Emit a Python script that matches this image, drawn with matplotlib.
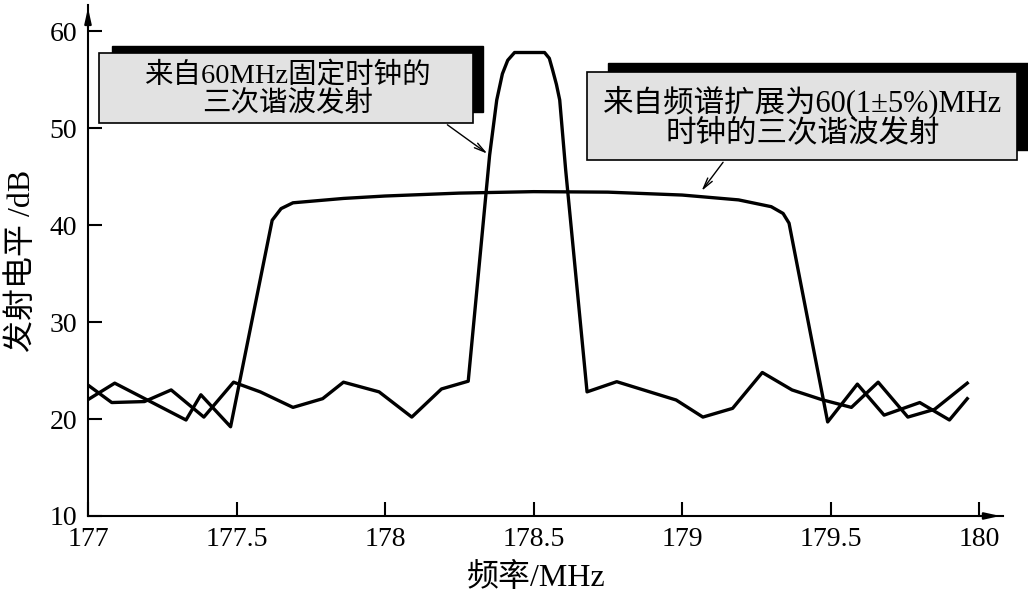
import matplotlib
matplotlib.use('Agg')
import matplotlib.pyplot as plt
from matplotlib.patches import Rectangle

plt.rcParams['font.family'] = ['Liberation Serif', 'Noto Sans CJK SC', 'DejaVu Sans']

# 60MHz 固定时钟的三次谐波
fixed_f = [177.00, 177.08, 177.19, 177.28, 177.39, 177.49, 177.58, 177.69, 177.79, 177.86,
           177.98, 178.09, 178.19, 178.28, 178.352, 178.376, 178.395, 178.413, 178.436, 178.537,
           178.553, 178.564, 178.577, 178.588, 178.608, 178.68, 178.78, 178.98, 179.07, 179.17,
           179.27, 179.37, 179.47, 179.57, 179.66, 179.76, 179.85, 179.96]
fixed_db = [23.5, 21.7, 21.8, 23.0, 20.2, 23.8, 22.8, 21.2, 22.1, 23.8,
            22.8, 20.2, 23.1, 23.9, 47.2, 52.9, 55.6, 57.0, 57.8, 57.8,
            57.2, 56.0, 54.5, 52.9, 45.7, 22.8, 23.85, 21.96, 20.2, 21.1,
            24.8, 23.0, 22.0, 21.2, 23.8, 20.2, 21.0, 23.7]

# 扩频 60(1±5%)MHz 时钟的三次谐波
spread_f = [177.00, 177.09, 177.33, 177.38, 177.48, 177.62, 177.65, 177.69, 177.86, 178.00,
            178.25, 178.50, 178.75, 179.00, 179.19, 179.30, 179.34, 179.36, 179.49, 179.59,
            179.68, 179.80, 179.90, 179.96]
spread_db = [22.0, 23.7, 19.9, 22.5, 19.2, 40.5, 41.7, 42.3, 42.75, 43.0,
             43.3, 43.45, 43.4, 43.1, 42.6, 41.9, 41.2, 40.2, 19.7, 23.6,
             20.4, 21.7, 19.9, 22.1]

xticks = [177, 177.5, 178, 178.5, 179, 179.5, 180]
xticklabels = ['177', '177.5', '178', '178.5', '179', '179.5', '180']
yticks = [10, 20, 30, 40, 50, 60]

fig = plt.figure(figsize=(10.28, 5.95), dpi=100)
ax = fig.add_axes([0.0856, 0.1328, 0.890, 0.8588])

ax.plot(fixed_f, fixed_db, color='black', lw=2.4, solid_joinstyle='round')
ax.plot(spread_f, spread_db, color='black', lw=2.4, solid_joinstyle='round')

ax.set_xlim(177, 180.08)
ax.set_ylim(10, 62.7)
ax.set_xticks(xticks)
ax.set_xticklabels(xticklabels)
ax.set_yticks(yticks)
ax.tick_params(direction='in', length=10, width=1.5, labelsize=20, pad=8)
for s in ['top', 'right']:
    ax.spines[s].set_visible(False)
for s in ['left', 'bottom']:
    ax.spines[s].set_linewidth(1.5)

# axis arrows
ax.annotate('', xy=(1, 0), xytext=(0.97, 0), xycoords='axes fraction',
            arrowprops=dict(arrowstyle='-|>,head_length=0.9,head_width=0.2', color='black', lw=1.5))
ax.annotate('', xy=(0, 1), xytext=(0, 0.95), xycoords='axes fraction',
            arrowprops=dict(arrowstyle='-|>,head_length=0.9,head_width=0.2', color='black', lw=1.5))

ax.set_xlabel('频率/MHz', fontsize=23)
ax.xaxis.set_label_coords(0.49, -0.092)
ax.set_ylabel('发射电平 /dB', fontsize=23)
ax.yaxis.set_label_coords(-0.056, 0.5)

# callout boxes with black shadow
fig.add_artist(Rectangle((0.1089, 0.8118), 0.3609, 0.1109, transform=fig.transFigure,
                         facecolor='black', edgecolor='black', zorder=5))
fig.add_artist(Rectangle((0.0963, 0.7933), 0.3638, 0.1176, transform=fig.transFigure,
                         facecolor='#e2e2e2', edgecolor='black', lw=1.2, zorder=6))
fig.text(0.28, 0.851, '来自60MHz固定时钟的\n三次谐波发射', ha='center', va='center',
         fontsize=20.5, linespacing=1.05, zorder=7)

fig.add_artist(Rectangle((0.5914, 0.7479), 0.4086, 0.1462, transform=fig.transFigure,
                         facecolor='black', edgecolor='black', zorder=5))
fig.add_artist(Rectangle((0.571, 0.7311), 0.4183, 0.1479, transform=fig.transFigure,
                         facecolor='#e2e2e2', edgecolor='black', lw=1.2, zorder=6))
fig.text(0.781, 0.804, '来自频谱扩展为60(1±5%)MHz\n时钟的三次谐波发射', ha='center', va='center',
         fontsize=22, linespacing=1.05, zorder=7)

ax.annotate('', xy=(178.352, 47.2), xycoords='data', xytext=(0.433, 0.793), textcoords='figure fraction',
            arrowprops=dict(arrowstyle='->,head_length=0.8,head_width=0.2', color='black', lw=1.0))
ax.annotate('', xy=(179.06, 43.3), xycoords='data', xytext=(0.705, 0.731), textcoords='figure fraction',
            arrowprops=dict(arrowstyle='->,head_length=0.8,head_width=0.2', color='black', lw=1.0))

fig.savefig('out.png', dpi=100)
